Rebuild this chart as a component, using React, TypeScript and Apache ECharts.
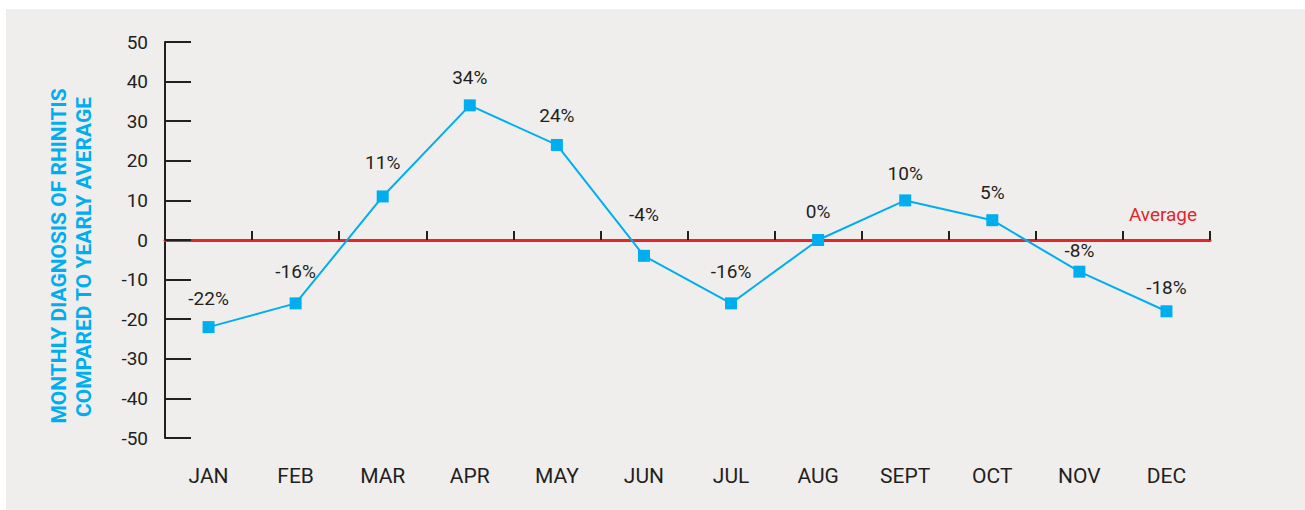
import React, { useEffect, useRef } from "react";
import * as echarts from "echarts";

const months = ["JAN", "FEB", "MAR", "APR", "MAY", "JUN", "JUL", "AUG", "SEPT", "OCT", "NOV", "DEC"];
const diffPct = [-22, -16, 11, 34, 24, -4, -16, 0, 10, 5, -8, -18];
// small vertical nudges of the value labels (px, positive = down), as placed in the original
const labelNudge = [1, -2, -4, 2, 0, -12, -2, 1, 3, 2, 8, 6];
const yTitleLines = ["MONTHLY DIAGNOSIS OF RHINITIS", "COMPARED TO YEARLY AVERAGE"];
const averageLabel = "Average";

const FONT = "Roboto, 'DejaVu Sans Condensed', sans-serif";
const BLUE = "#00aeef";
const RED = "#e3262c";
const INK = "#231f20";

export default function App() {
  const ref = useRef<HTMLDivElement>(null);
  useEffect(() => {
    if (!ref.current) return;
    const chart = echarts.init(ref.current, undefined, { renderer: "svg" });
    chart.setOption({
      animation: false,
      backgroundColor: "#efeeed",
      grid: { left: 159, right: 95, top: 33, bottom: 72, containLabel: false },
      xAxis: [
        {
          type: "category",
          data: months,
          boundaryGap: true,
          axisLine: { show: true, onZero: true, lineStyle: { color: RED, width: 3 } },
          axisTick: { show: true, inside: true, length: 9, lineStyle: { color: INK, width: 2 } },
          axisLabel: { show: false },
          splitLine: { show: false },
        },
        {
          type: "category",
          data: months,
          position: "bottom",
          boundaryGap: true,
          axisLine: { show: false, onZero: false },
          axisTick: { show: false },
          axisLabel: { show: true, margin: 27, color: INK, fontSize: 21, fontFamily: FONT },
          splitLine: { show: false },
        },
      ],
      yAxis: {
        type: "value",
        min: -50,
        max: 50,
        interval: 10,
        axisLine: { show: true, lineStyle: { color: INK, width: 2 } },
        axisTick: { show: true, inside: true, length: 26, lineStyle: { color: INK, width: 2 } },
        axisLabel: { color: INK, fontSize: 19, fontFamily: FONT, margin: 17 },
        splitLine: { show: false },
      },
      graphic: [
        {
          type: "text",
          x: 53,
          y: 247,
          rotation: Math.PI / 2,
          style: {
            text: yTitleLines[0],
            fill: BLUE,
            font: `bold 21px ${FONT}`,
            align: "center",
            verticalAlign: "middle",
          },
        },
        {
          type: "text",
          x: 78,
          y: 248,
          rotation: Math.PI / 2,
          style: {
            text: yTitleLines[1],
            fill: BLUE,
            font: `bold 21px ${FONT}`,
            align: "center",
            verticalAlign: "middle",
          },
        },
        {
          type: "text",
          x: 1157,
          y: 205,
          style: {
            text: averageLabel,
            fill: RED,
            font: `19px ${FONT}`,
            align: "center",
            verticalAlign: "middle",
          },
        },
      ],
      series: [
        {
          type: "line",
          data: diffPct.map((v, i) => ({
            value: v,
            label: { offset: [0, labelNudge[i]] },
          })),
          xAxisIndex: 0,
          symbol: "rect",
          symbolSize: 12,
          lineStyle: { color: BLUE, width: 2 },
          itemStyle: { color: BLUE },
          label: {
            show: true,
            position: "top",
            distance: 14,
            formatter: (p: any) => `${p.value}%`,
            color: INK,
            fontSize: 19,
            fontFamily: FONT,
          },
          z: 5,
        },
      ],
    });
    return () => chart.dispose();
  }, []);
  return (
    <div
      ref={ref}
      style={{ position: "absolute", left: 6, top: 9, width: 1299, height: 501 }}
    />
  );
}
